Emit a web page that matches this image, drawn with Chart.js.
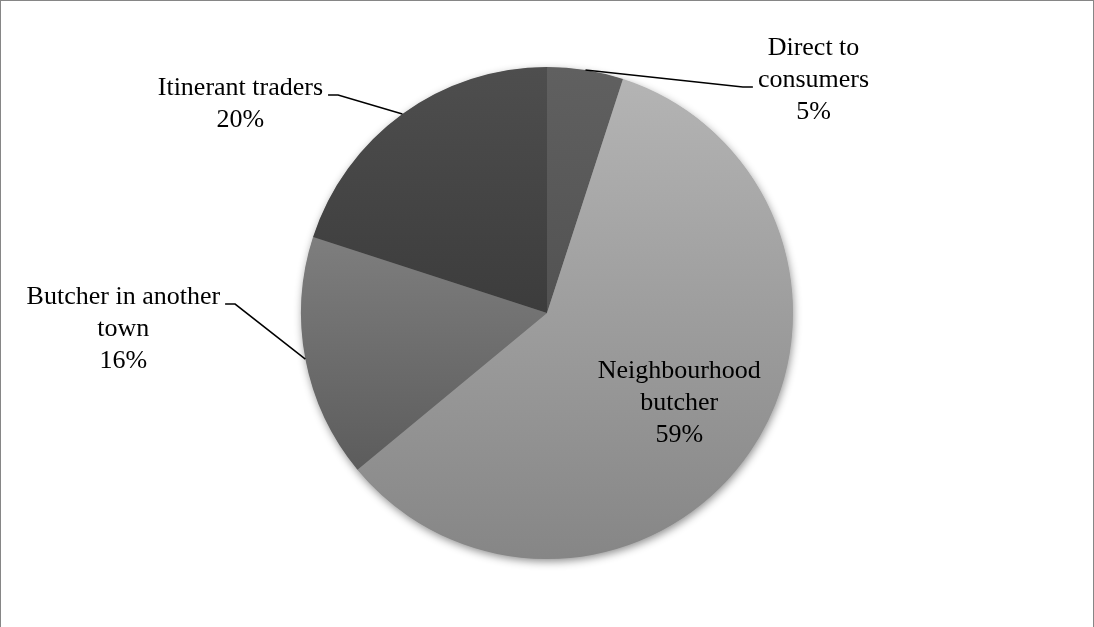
<!DOCTYPE html>
<html>
<head>
<meta charset="utf-8">
<script src="https://cdn.jsdelivr.net/npm/chart.js@4/dist/chart.umd.min.js"></script>
<style>
  body { margin: 0; background: #fff; }
  #wrap {
    width: 1092px;
    height: 626px;
    border-top: 1px solid #868686;
    border-left: 1px solid #868686;
    border-right: 1px solid #868686;
  }
</style>
</head>
<body>
<div id="wrap"><canvas id="pie" width="1092" height="626"></canvas></div>
<script>
// Chart data
const categories = ['Direct to consumers', 'Neighbourhood butcher', 'Butcher in another town', 'Itinerant traders'];
const shares = [5, 59, 16, 20];

// Slice fills: top and bottom colour of each slice's gradient
const topColors = ['#606060', '#b4b4b4', '#7e7e7e', '#4e4e4e'];
const bottomColors = ['#525252', '#868686', '#5c5c5c', '#3c3c3c'];

// Label placement: offset of the label block from the point on the rim (outside labels)
// or fraction of the radius (inside label)
const labelPlacement = [
  { dx: 228, dy: 10 },
  { inside: 0.65 },
  { dx: -182, dy: -30 },
  { dx: -162, dy: -10 }
];

const FONT = '26px "Liberation Serif", "Times New Roman", serif';
const LINE_H = 32;
const WRAP_W = 200;

// Vertical extent of a slice, used for its gradient
function sliceExtent(cx, cy, r, a0, a1) {
  let minY = cy, maxY = cy;
  const steps = 60;
  for (let i = 0; i <= steps; i++) {
    const a = a0 + (a1 - a0) * i / steps;
    const y = cy + r * Math.sin(a);
    minY = Math.min(minY, y);
    maxY = Math.max(maxY, y);
  }
  return [minY, maxY];
}

function sliceFill(context) {
  const chart = context.chart;
  const area = chart.chartArea;
  const i = context.dataIndex;
  if (!area) return topColors[i];
  const cx = (area.left + area.right) / 2;
  const cy = (area.top + area.bottom) / 2;
  const r = Math.min(area.width, area.height) / 2;
  const total = shares.reduce((a, b) => a + b, 0);
  let before = 0;
  for (let k = 0; k < i; k++) before += shares[k];
  const a0 = -Math.PI / 2 + 2 * Math.PI * before / total;
  const a1 = a0 + 2 * Math.PI * shares[i] / total;
  const [y0, y1] = sliceExtent(cx, cy, r, a0, a1);
  const g = chart.ctx.createLinearGradient(0, y0, 0, y1);
  g.addColorStop(0, topColors[i]);
  g.addColorStop(1, bottomColors[i]);
  return g;
}

function wrapText(ctx, text, maxW) {
  const words = text.split(' ');
  const lines = [];
  let cur = '';
  words.forEach(w => {
    const test = cur ? cur + ' ' + w : w;
    if (cur && ctx.measureText(test).width > maxW) {
      lines.push(cur);
      cur = w;
    } else {
      cur = test;
    }
  });
  if (cur) lines.push(cur);
  return lines;
}

// Soft shadow under the pie
const pieShadow = {
  id: 'pieShadow',
  beforeDatasetsDraw(chart) {
    const arc = chart.getDatasetMeta(0).data[0];
    if (!arc) return;
    const ctx = chart.ctx;
    ctx.save();
    ctx.shadowColor = 'rgba(0,0,0,0.45)';
    ctx.shadowBlur = 8;
    ctx.shadowOffsetX = 1;
    ctx.shadowOffsetY = 3;
    ctx.fillStyle = '#8a8a8a';
    ctx.beginPath();
    ctx.arc(arc.x, arc.y, arc.outerRadius - 0.5, 0, Math.PI * 2);
    ctx.fill();
    ctx.restore();
  }
};

// Data labels with leader lines
const sliceLabels = {
  id: 'sliceLabels',
  afterDatasetsDraw(chart) {
    const ctx = chart.ctx;
    const meta = chart.getDatasetMeta(0);
    ctx.save();
    ctx.font = FONT;
    ctx.fillStyle = '#000';
    ctx.textAlign = 'center';
    ctx.textBaseline = 'middle';
    meta.data.forEach((arc, i) => {
      const mid = (arc.startAngle + arc.endAngle) / 2;
      const lines = wrapText(ctx, categories[i], WRAP_W);
      lines.push(shares[i] + '%');
      const place = labelPlacement[i];
      let bx, by;
      const ax = arc.x + arc.outerRadius * Math.cos(mid);
      const ay = arc.y + arc.outerRadius * Math.sin(mid);
      if (place.inside) {
        bx = arc.x + arc.outerRadius * place.inside * Math.cos(mid);
        by = arc.y + arc.outerRadius * place.inside * Math.sin(mid);
      } else {
        bx = ax + place.dx;
        by = ay + place.dy;
      }
      const top = by - (lines.length - 1) * LINE_H / 2;
      let widest = 0, widestW = 0;
      lines.forEach((ln, k) => {
        ctx.fillText(ln, bx, top + k * LINE_H);
        const w = ctx.measureText(ln).width;
        if (w > widestW) { widestW = w; widest = k; }
      });
      if (!place.inside) {
        const ly = top + widest * LINE_H + 7;
        const side = place.dx > 0 ? -1 : 1;
        const edge = bx + side * widestW / 2;
        const tickEnd = edge + side * 5;
        const tickStart = edge + side * 15;
        ctx.strokeStyle = '#000';
        ctx.lineWidth = 1.5;
        ctx.beginPath();
        ctx.moveTo(ax, ay);
        ctx.lineTo(tickStart, ly);
        ctx.lineTo(tickEnd, ly);
        ctx.stroke();
      }
    });
    ctx.restore();
  }
};

new Chart(document.getElementById('pie'), {
  type: 'pie',
  data: {
    labels: categories,
    datasets: [{
      data: shares,
      backgroundColor: sliceFill,
      borderWidth: 0,
      hoverOffset: 0,
      offset: 0
    }]
  },
  options: {
    responsive: false,
    animation: false,
    layout: { padding: { top: 66, bottom: 68, left: 0, right: 0 } },
    plugins: {
      legend: { display: false },
      tooltip: { enabled: false }
    }
  },
  plugins: [pieShadow, sliceLabels]
});
</script>
</body>
</html>
